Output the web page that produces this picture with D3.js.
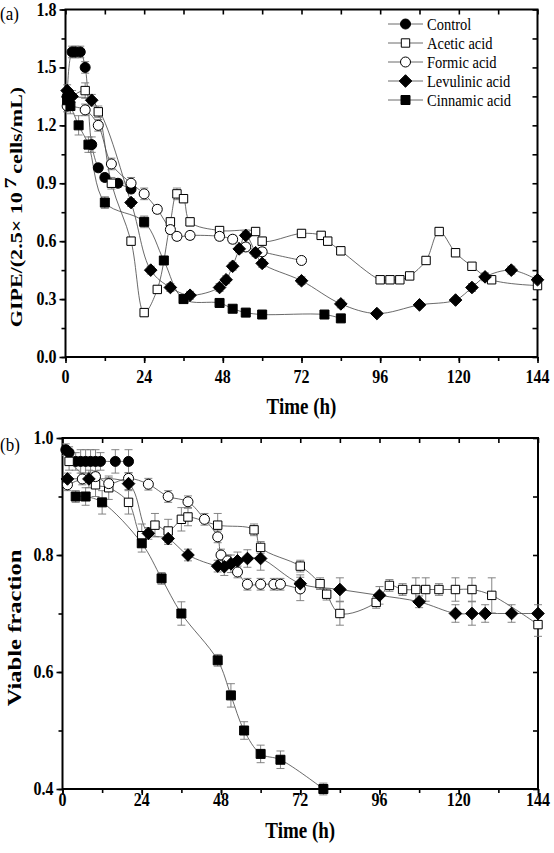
<!DOCTYPE html>
<html><head><meta charset="utf-8">
<script src="https://cdnjs.cloudflare.com/ajax/libs/d3/7.8.5/d3.min.js"></script>
<style>body{margin:0;background:#fff;} svg{display:block;}</style>
</head><body>
<script>
// ---------- DATA ----------
const seriesNames = ["Control", "Acetic acid", "Formic acid", "Levulinic acid", "Cinnamic acid"];
const xTicks = [0, 24, 48, 72, 96, 120, 144];
const yTicksA = [0.0, 0.3, 0.6, 0.9, 1.2, 1.5, 1.8];
const yTicksB = [0.4, 0.6, 0.8, 1.0];

// Panel (a): GIPE
const controlA_t = [0.5, 2, 3, 4.5, 6, 8, 10, 12, 16, 20];
const controlA_v = [1.35, 1.58, 1.58, 1.58, 1.50, 1.10, 0.98, 0.93, 0.90, 0.87];
const controlA_e = [0.03, 0.03, 0.03, 0.03, 0.03, 0.04, 0.02, 0.02, 0.02, 0.02];

const aceticA_t = [0.5, 6, 10, 14, 20, 24, 28, 32, 34, 36, 38, 47, 58, 60, 72, 78, 80, 84, 96, 99, 102, 105, 110, 114, 119, 124, 130, 144];
const aceticA_v = [1.33, 1.38, 1.27, 0.90, 0.60, 0.23, 0.35, 0.70, 0.845, 0.82, 0.70, 0.655, 0.65, 0.60, 0.64, 0.63, 0.60, 0.55, 0.40, 0.40, 0.40, 0.42, 0.50, 0.65, 0.54, 0.47, 0.40, 0.37];
const aceticA_e = [0.03, 0.04, 0.03, 0.03, 0.02, 0.02, 0.02, 0.02, 0.03, 0.02, 0.02, 0.02, 0.02, 0.02, 0.02, 0.02, 0.02, 0.02, 0.01, 0.01, 0.01, 0.01, 0.02, 0.02, 0.02, 0.01, 0.01, 0.02];

const formicA_t = [0.5, 6, 10, 14, 20, 24, 28, 32, 34, 38, 47, 51, 55, 60, 72];
const formicA_v = [1.30, 1.28, 1.20, 1.00, 0.90, 0.845, 0.765, 0.66, 0.625, 0.63, 0.625, 0.61, 0.57, 0.545, 0.50];
const formicA_e = [0.03, 0.03, 0.03, 0.03, 0.03, 0.03, 0.02, 0.02, 0.02, 0.02, 0.02, 0.02, 0.02, 0.02, 0.01];

const levulinicA_t = [0.5, 2, 8, 20, 26, 32, 38, 47, 49, 51, 53, 55, 58, 60, 72, 84, 95, 108, 119, 124, 128, 136, 144];
const levulinicA_v = [1.38, 1.35, 1.33, 0.80, 0.45, 0.36, 0.32, 0.36, 0.40, 0.47, 0.56, 0.63, 0.54, 0.485, 0.395, 0.275, 0.225, 0.27, 0.295, 0.36, 0.415, 0.45, 0.40];
const levulinicA_e = [0.03, 0.03, 0.03, 0.02, 0.02, 0.02, 0.02, 0.02, 0.02, 0.02, 0.02, 0.02, 0.02, 0.02, 0.02, 0.02, 0.01, 0.01, 0.01, 0.02, 0.02, 0.02, 0.02];

const cinnamicA_t = [0.5, 1.5, 4, 7, 12, 24, 30, 36, 47, 51, 55, 60, 79, 84];
const cinnamicA_v = [1.33, 1.30, 1.20, 1.10, 0.80, 0.70, 0.50, 0.30, 0.28, 0.25, 0.23, 0.22, 0.22, 0.20];
const cinnamicA_e = [0.03, 0.04, 0.05, 0.04, 0.03, 0.03, 0.02, 0.02, 0.01, 0.01, 0.01, 0.01, 0.01, 0.01];

// Panel (b): viable fraction
const controlB_t = [1, 2, 4, 5.5, 7, 8.5, 10, 11.5, 16, 20];
const controlB_v = [0.98, 0.975, 0.96, 0.96, 0.96, 0.96, 0.96, 0.96, 0.96, 0.96];
const controlB_e = [0.01, 0.01, 0.015, 0.02, 0.02, 0.02, 0.02, 0.015, 0.02, 0.02];

const aceticB_t = [2, 10, 14, 20, 24, 28, 32, 36, 38, 47, 58, 60, 72, 78, 80, 84, 95, 99, 103, 107, 110, 114, 119, 124, 130, 144];
const aceticB_v = [0.96, 0.92, 0.915, 0.89, 0.833, 0.851, 0.841, 0.861, 0.865, 0.851, 0.843, 0.813, 0.781, 0.751, 0.733, 0.70, 0.719, 0.748, 0.741, 0.741, 0.741, 0.741, 0.741, 0.741, 0.731, 0.681];
const aceticB_e = [0.015, 0.02, 0.02, 0.02, 0.02, 0.02, 0.02, 0.02, 0.015, 0.02, 0.01, 0.01, 0.01, 0.01, 0.01, 0.02, 0.01, 0.01, 0.01, 0.02, 0.02, 0.01, 0.02, 0.02, 0.03, 0.02];

const formicB_t = [1.5, 6, 10, 14, 20, 26, 32, 38, 43, 47, 48, 50, 53, 56, 60, 64, 66, 72];
const formicB_v = [0.92, 0.93, 0.934, 0.922, 0.931, 0.921, 0.90, 0.891, 0.861, 0.831, 0.80, 0.79, 0.771, 0.75, 0.75, 0.75, 0.75, 0.742];
const formicB_e = [0.01, 0.01, 0.01, 0.01, 0.01, 0.01, 0.01, 0.01, 0.01, 0.01, 0.01, 0.01, 0.01, 0.01, 0.01, 0.01, 0.01, 0.02];

const levulinicB_t = [1.5, 8, 20, 26, 32, 38, 47, 49, 51, 53, 56, 60, 72, 84, 96, 108, 119, 124, 128, 136, 144];
const levulinicB_v = [0.93, 0.93, 0.922, 0.837, 0.828, 0.80, 0.781, 0.78, 0.785, 0.79, 0.794, 0.794, 0.751, 0.741, 0.731, 0.72, 0.70, 0.70, 0.70, 0.70, 0.70];
const levulinicB_e = [0.01, 0.015, 0.01, 0.01, 0.01, 0.01, 0.01, 0.015, 0.015, 0.015, 0.015, 0.02, 0.015, 0.02, 0.015, 0.01, 0.015, 0.02, 0.015, 0.015, 0.015];

const cinnamicB_t = [4, 7, 12, 24, 30, 36, 47, 51, 55, 60, 66, 79];
const cinnamicB_v = [0.90, 0.90, 0.89, 0.82, 0.76, 0.70, 0.62, 0.56, 0.50, 0.46, 0.45, 0.40];
const cinnamicB_e = [0.01, 0.015, 0.02, 0.015, 0.01, 0.02, 0.01, 0.02, 0.015, 0.015, 0.015, 0.01];

// ---------- DRAW ----------
const W = 554, H = 853;
const STRETCH = 1.26; // the original figure's text is tall and narrow
const FONT = "'Liberation Serif','Times New Roman',serif";
const svg = d3.select("body").append("svg").attr("width", W).attr("height", H)
  .style("font-family", FONT);

function stext(x, y, str, size, anchor, bold, sy) {
  return svg.append("text")
    .attr("transform", `translate(${x},${y}) scale(1,${sy || STRETCH})`)
    .attr("text-anchor", anchor || "start")
    .attr("font-size", size)
    .attr("font-weight", bold ? "bold" : "normal")
    .attr("fill", "#000")
    .text(str);
}

const markerStyles = ["circleFilled", "squareOpen", "circleOpen", "diamondFilled", "squareFilled"];

function markerPath(type) {
  if (type.startsWith("circle")) { const r = 5; return `M${-r},0A${r},${r} 0 1,0 ${r},0A${r},${r} 0 1,0 ${-r},0Z`; }
  if (type.startsWith("square")) { const s = type === "squareOpen" ? 4.2 : 4.5; return `M${-s},${-s}H${s}V${s}H${-s}Z`; }
  const d = 6.3; return `M0,${-d}L${d},0L0,${d}L${-d},0Z`;
}
function markerFill(type) { return type.endsWith("Open") ? "#fff" : "#000"; }

function makeSeries(ts, vs, es) { return ts.map((t, i) => ({ t, v: vs[i], e: es[i] })); }

function panel(cfg) {
  const x = d3.scaleLinear().domain([0, 144]).range([cfg.left, cfg.right]);
  const y = d3.scaleLinear().domain(cfg.yDomain).range([cfg.bottom, cfg.top]);
  const g = svg.append("g");

  const xMinor = d3.range(0, 145, 12);
  const yMinor = d3.range(cfg.yDomain[0], cfg.yDomain[1] + 1e-9, cfg.yMinorStep);

  g.append("g").attr("transform", `translate(0,${cfg.bottom})`)
    .call(d3.axisBottom(x).tickValues(xMinor).tickSize(4).tickFormat(""));
  g.append("g").attr("transform", `translate(0,${cfg.bottom})`)
    .call(d3.axisBottom(x).tickValues(xTicks).tickSize(6).tickFormat(""));
  g.append("g").attr("transform", `translate(0,${cfg.top})`)
    .call(d3.axisBottom(x).tickValues(xMinor).tickSize(5).tickFormat(""));
  g.append("g").attr("transform", `translate(${cfg.left},0)`)
    .call(d3.axisLeft(y).tickValues(yMinor).tickSize(4).tickFormat(""));
  g.append("g").attr("transform", `translate(${cfg.left},0)`)
    .call(d3.axisLeft(y).tickValues(cfg.yTicks).tickSize(6).tickFormat(""));
  g.append("g").attr("transform", `translate(${cfg.right},0)`)
    .call(d3.axisLeft(y).tickValues(yMinor).tickSize(5).tickFormat(""));
  g.selectAll(".domain").remove();
  g.selectAll(".tick line").attr("stroke", "#000").attr("stroke-width", 1.6);
  g.append("rect").attr("x", cfg.left).attr("y", cfg.top)
    .attr("width", cfg.right - cfg.left).attr("height", cfg.bottom - cfg.top)
    .attr("fill", "none").attr("stroke", "#000").attr("stroke-width", 2);

  // tick labels (slightly tall, like the original)
  xTicks.forEach(t => stext(x(t), cfg.xLabelBase, d3.format("d")(t), 16, "middle", true, 1.15));
  cfg.yTicks.forEach(v => stext(cfg.left - 9, y(v) + 6, d3.format(".1f")(v), 16, "end", true, 1.15));

  const line = d3.line().x(d => x(d.t)).y(d => y(d.v)).curve(d3.curveCatmullRom.alpha(0.5));
  const clipId = "clip" + cfg.id;
  svg.append("clipPath").attr("id", clipId).append("rect")
    .attr("x", cfg.left).attr("y", cfg.top).attr("width", cfg.right - cfg.left).attr("height", cfg.bottom - cfg.top);
  const plot = g.append("g").attr("clip-path", `url(#${clipId})`);
  cfg.series.forEach(s => {
    plot.append("path").datum(s).attr("d", line).attr("fill", "none")
      .attr("stroke", "#444").attr("stroke-width", 0.8);
  });
  cfg.series.forEach(s => {
    const eg = g.append("g").attr("stroke", "#777").attr("stroke-width", 0.9);
    s.forEach(d => {
      const cx = x(d.t), y1 = y(d.v + d.e), y2 = y(d.v - d.e);
      eg.append("line").attr("x1", cx).attr("x2", cx).attr("y1", y1).attr("y2", y2);
      eg.append("line").attr("x1", cx - 4).attr("x2", cx + 4).attr("y1", y1).attr("y2", y1);
      eg.append("line").attr("x1", cx - 4).attr("x2", cx + 4).attr("y1", y2).attr("y2", y2);
    });
  });
  cfg.series.forEach((s, i) => {
    const type = markerStyles[i];
    g.append("g").selectAll("path").data(s).join("path")
      .attr("d", markerPath(type))
      .attr("transform", d => `translate(${x(d.t)},${y(d.v)})`)
      .attr("fill", markerFill(type)).attr("stroke", "#000").attr("stroke-width", 1);
  });

  stext((cfg.left + cfg.right) / 2, cfg.titleY, "Time (h)", 19, "middle", true);
  stext(0, cfg.labelY, cfg.label, 17, "start", false, 1.15);
  return { x, y };
}

const sA = [
  makeSeries(controlA_t, controlA_v, controlA_e),
  makeSeries(aceticA_t, aceticA_v, aceticA_e),
  makeSeries(formicA_t, formicA_v, formicA_e),
  makeSeries(levulinicA_t, levulinicA_v, levulinicA_e),
  makeSeries(cinnamicA_t, cinnamicA_v, cinnamicA_e)
];
const sB = [
  makeSeries(controlB_t, controlB_v, controlB_e),
  makeSeries(aceticB_t, aceticB_v, aceticB_e),
  makeSeries(formicB_t, formicB_v, formicB_e),
  makeSeries(levulinicB_t, levulinicB_v, levulinicB_e),
  makeSeries(cinnamicB_t, cinnamicB_v, cinnamicB_e)
];

panel({ id: "a", left: 65.5, right: 537.5, top: 9.5, bottom: 357, yDomain: [0, 1.8], yTicks: yTicksA, yMinorStep: 0.15, series: sA, label: "(a)", titleY: 414, xLabelBase: 383, labelY: 20 });
panel({ id: "b", left: 62.5, right: 538, top: 438, bottom: 789, yDomain: [0.4, 1.0], yTicks: yTicksB, yMinorStep: 0.1, series: sB, label: "(b)", titleY: 838, xLabelBase: 806, labelY: 451 });

// y titles (rotated, stretched along their length)
const tA = svg.append("text").attr("transform", `translate(22,207) rotate(-90) scale(${STRETCH},1)`)
  .attr("text-anchor", "middle").attr("font-size", 17.5).attr("font-weight", "bold");
tA.append("tspan").text("GIPE/(2.5× 10");
tA.append("tspan").attr("dy", -6).attr("dx", 3).text("7");
tA.append("tspan").attr("dy", 6).attr("dx", 3).text("cells/mL)");
svg.append("text").attr("transform", `translate(21,628) rotate(-90) scale(${STRETCH},1)`)
  .attr("text-anchor", "middle").attr("font-size", 19.5).attr("font-weight", "bold").text("Viable fraction");

// legend
const leg = svg.append("g");
seriesNames.forEach((name, i) => {
  const yy = 24 + i * 19;
  leg.append("line").attr("x1", 388).attr("x2", 423).attr("y1", yy).attr("y2", yy).attr("stroke", "#444").attr("stroke-width", 0.8);
  leg.append("path").attr("d", markerPath(markerStyles[i])).attr("transform", `translate(405.5,${yy})`)
    .attr("fill", markerFill(markerStyles[i])).attr("stroke", "#000").attr("stroke-width", 1);
  stext(427, yy + 5.5, name, 14.5, "start", false, 1.18);
});
</script>
</body></html>
